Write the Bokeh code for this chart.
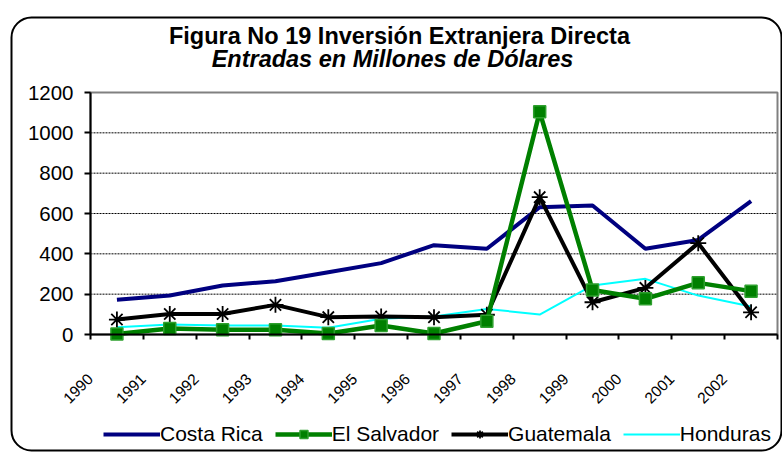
import math
from bokeh.plotting import figure
from bokeh.models import (Range1d, FixedTicker, Legend, LegendItem, Label,
                          BoxAnnotation)
from bokeh.embed import file_html
from bokeh.resources import INLINE

years = ["1990", "1991", "1992", "1993", "1994", "1995", "1996",
         "1997", "1998", "1999", "2000", "2001", "2002"]
costa_rica = [172, 193, 243, 264, 309, 354, 443, 425, 631, 640, 425, 469, 661]
el_salvador = [2, 30, 23, 23, 5, 45, 5, 66, 1104, 221, 177, 256, 215]
guatemala = [74, 102, 102, 147, 86, 89, 86, 98, 681, 160, 231, 453, 110]
honduras = [36, 50, 45, 45, 33, 78, 89, 127, 99, 243, 276, 193, 139]
y_ticks = [0, 200, 400, 600, 800, 1000, 1200]

FONT = "Liberation Sans"
W, H = 782, 454
# plot area in pixels (left, right, top, bottom)
PL, PR, PT, PB = 90, 777, 92, 334
n = len(years)
xs = [i + 0.5 for i in range(n)]
Y_MAX = y_ticks[-1]

# ranges chosen so that the whole canvas is the frame and the data area sits at PL..PR, PT..PB
ux = (PR - PL) / n
uy = (PB - PT) / Y_MAX
x_range = Range1d(-PL / ux, n + (W - PR) / ux)
y_range = Range1d(-(H - PB) / uy, Y_MAX + PT / uy)

p = figure(width=W, height=H, output_backend="svg", toolbar_location=None,
           title=None, x_range=x_range, y_range=y_range,
           min_border_left=0, min_border_right=0, min_border_top=0,
           min_border_bottom=0)
p.background_fill_color = "white"
p.border_fill_color = "white"
p.outline_line_color = None
p.xgrid.visible = False
p.ygrid.visible = False

# axes
p.xaxis.fixed_location = 0
p.xaxis.bounds = (0, n)
p.xaxis.ticker = FixedTicker(ticks=list(range(n + 1)))
p.xaxis.major_label_overrides = {i: (years[i] if i < n else "") for i in range(n + 1)}
p.xaxis.major_label_orientation = math.pi / 4
p.xaxis.major_label_text_font = FONT
p.xaxis.major_label_text_font_size = "15.5px"
p.xaxis.major_label_text_color = "black"
p.xaxis.major_label_standoff = 37
p.xaxis.axis_line_width = 2
p.xaxis.major_tick_out = 5
p.xaxis.major_tick_in = 0
p.xaxis.major_tick_line_width = 2
p.xaxis.minor_tick_line_color = None

p.yaxis.fixed_location = 0
p.yaxis.bounds = (0, Y_MAX)
p.yaxis.ticker = FixedTicker(ticks=y_ticks)
p.yaxis.major_label_text_font = FONT
p.yaxis.major_label_text_font_size = "20.5px"
p.yaxis.major_label_text_color = "black"
p.yaxis.major_label_standoff = 11
p.yaxis.axis_line_width = 2
p.yaxis.major_tick_out = 6
p.yaxis.major_tick_in = 0
p.yaxis.major_tick_line_width = 2
p.yaxis.minor_tick_line_color = None

# plot-area border (grey) and dashed gridlines, limited to the plot area
p.add_layout(BoxAnnotation(left=0, right=n, bottom=0, top=Y_MAX, level="underlay",
                           fill_alpha=0, line_color="#808080", line_alpha=1.0,
                           line_width=2))
grid_y = y_ticks[1:-1]
p.segment(x0=[0] * len(grid_y), y0=grid_y, x1=[n] * len(grid_y), y1=grid_y,
          line_color="black", line_dash="2 1", line_width=1, level="underlay")

# series
l_cr = p.line(xs, costa_rica, line_color="#000080", line_width=4)
l_hn = p.line(xs, honduras, line_color="#00FFFF", line_width=2)
l_gt = p.line(xs, guatemala, line_color="black", line_width=4)
s_gt = p.scatter(xs, guatemala, marker="asterisk", size=16, line_color="black",
                 line_width=1.8)
l_es = p.line(xs, el_salvador, line_color="#008000", line_width=4.5)
s_es = p.scatter(xs, el_salvador, marker="square", size=12, fill_color="#008000",
                 line_color="#2EA02E", line_width=1.5)

legend = Legend(items=[
    LegendItem(label="Costa Rica", renderers=[l_cr]),
    LegendItem(label="El Salvador", renderers=[l_es, s_es]),
    LegendItem(label="Guatemala", renderers=[l_gt, s_gt]),
    LegendItem(label="Honduras", renderers=[l_hn]),
], orientation="horizontal", location=(103, 8), padding=0, margin=0,
    spacing=12, glyph_width=57, glyph_height=20, label_standoff=0,
    label_text_font=FONT, label_text_font_size="21px",
    label_text_color="black",
    border_line_color=None, background_fill_alpha=0)
p.add_layout(legend)

# titles (screen units: from bottom-left of canvas)
p.add_layout(Label(x=399, y=H - 35, x_units="screen", y_units="screen",
                   text="Figura No 19 Inversión Extranjera Directa",
                   text_align="center", text_baseline="alphabetic",
                   text_font=FONT, text_font_size="23.5px",
                   text_font_style="bold", text_color="black"))
p.add_layout(Label(x=392, y=H - 58, x_units="screen", y_units="screen",
                   text="Entradas en Millones de Dólares",
                   text_align="center", text_baseline="alphabetic",
                   text_font=FONT, text_font_size="23.5px",
                   text_font_style="bold italic", text_color="black"))

# rounded chart border
p.add_layout(BoxAnnotation(left=11, right=781, top=H - 17, bottom=H - 450,
                           left_units="screen", right_units="screen",
                           top_units="screen", bottom_units="screen",
                           fill_alpha=0, line_color="black", line_alpha=1.0,
                           line_width=2, border_radius=20))

open("out.html", "w").write(file_html(p, INLINE))
